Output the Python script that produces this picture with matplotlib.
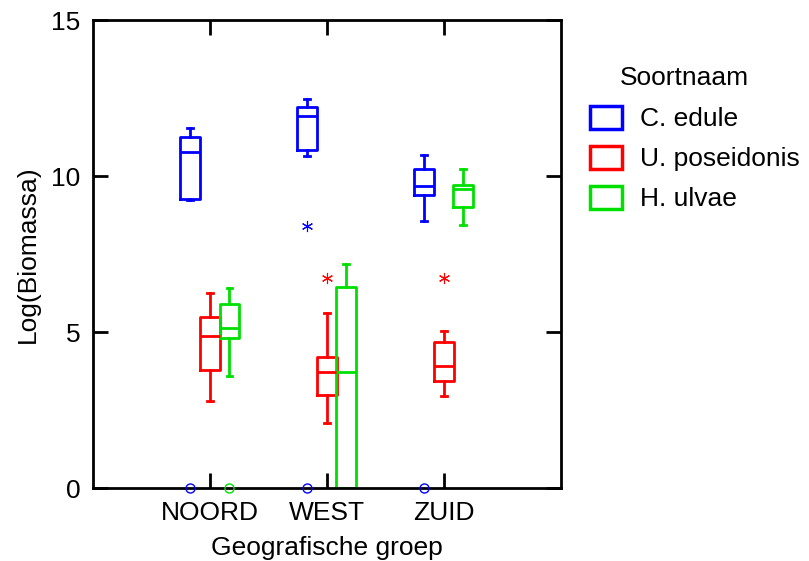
import matplotlib
matplotlib.use("Agg")
import matplotlib.pyplot as plt
from matplotlib.patches import Patch

plt.rcParams['font.family'] = ['Liberation Sans', 'DejaVu Sans']

groups = ["NOORD", "WEST", "ZUID"]
species = ["C. edule", "U. poseidonis", "H. ulvae"]
colors = ["#0000ff", "#ff0000", "#00e000"]

# per species: [whislo, q1, med, q3, whishi] for NOORD, WEST, ZUID
stats_c_edule = [[9.23, 9.28, 10.77, 11.25, 11.54],
                 [10.65, 10.85, 11.93, 12.23, 12.47],
                 [8.57, 9.39, 9.70, 10.22, 10.68]]
stats_u_pos = [[2.79, 3.80, 4.88, 5.50, 6.24],
               [2.08, 2.98, 3.72, 4.20, 5.60],
               [2.94, 3.44, 3.92, 4.69, 5.05]]
stats_h_ulvae = [[3.59, 4.82, 5.12, 5.89, 6.40],
                 [0.0, 0.0, 3.72, 6.45, 7.19],
                 [8.42, 9.00, 9.59, 9.72, 10.22]]
# far outliers (circles) and outliers (asterisks)
far_c_edule = [[0.0], [0.0], [0.0]]
near_c_edule = [[], [8.40], []]
far_u_pos = [[], [], []]
near_u_pos = [[], [6.72], [6.72]]
far_h_ulvae = [[0.0], [], []]
near_h_ulvae = [[], [], []]

all_stats = [stats_c_edule, stats_u_pos, stats_h_ulvae]
all_far = [far_c_edule, far_u_pos, far_h_ulvae]
all_near = [near_c_edule, near_u_pos, near_h_ulvae]

fig = plt.figure(figsize=(8.09, 5.61), dpi=100)
ax = fig.add_axes([0.115, 0.130, 0.578, 0.834])

lw = 2.0
offsets = [-0.167, 0.0, 0.167]
for k in range(3):
    c = colors[k]
    bstats = []
    for g in range(3):
        lo, q1, med, q3, hi = all_stats[k][g]
        bstats.append(dict(whislo=lo, q1=q1, med=med, q3=q3, whishi=hi, fliers=[]))
    pos = [g + 1 + offsets[k] for g in range(3)]
    ax.bxp(bstats, positions=pos, widths=0.17, capwidths=0.05, showfliers=False,
           boxprops=dict(color=c, linewidth=lw),
           whiskerprops=dict(color=c, linewidth=lw),
           capprops=dict(color=c, linewidth=lw),
           medianprops=dict(color=c, linewidth=lw))
    for g in range(3):
        p = g + 1 + offsets[k]
        for v in all_far[k][g]:
            ax.plot([p], [v], marker='o', mfc='none', mec=c, ms=6.5, mew=1,
                    clip_on=False, zorder=5)
        for v in all_near[k][g]:
            ax.plot([p], [v], marker=(6, 2, 0), color=c, ms=8, mew=0.8, zorder=5)

ax.set_xlim(0, 4)
ax.set_ylim(0, 15)
ax.set_xticks([1, 2, 3])
ax.set_xticklabels(groups)
ax.set_yticks([0, 5, 10, 15])
ax.tick_params(direction='in', length=11, width=2, labelsize=19,
               top=True, right=True, pad=9)
for s in ax.spines.values():
    s.set_linewidth(2)
ax.set_xlabel("Geografische groep", fontsize=19, labelpad=8)
ax.set_ylabel("Log(Biomassa)", fontsize=19, labelpad=8)

fig.text(620 / 809, 1 - 78 / 561, "Soortnaam", fontsize=19, va='center', ha='left')
handles = [Patch(facecolor='none', edgecolor=c, linewidth=2.5) for c in colors]
leg = fig.legend(handles, species, loc='upper left',
                 bbox_to_anchor=(590 / 809, 1 - 106 / 561), frameon=False,
                 fontsize=19, handlelength=1.2, handleheight=0.95,
                 labelspacing=0.55, handletextpad=0.7,
                 borderpad=0, borderaxespad=0)

fig.savefig("out.png", dpi=100)
